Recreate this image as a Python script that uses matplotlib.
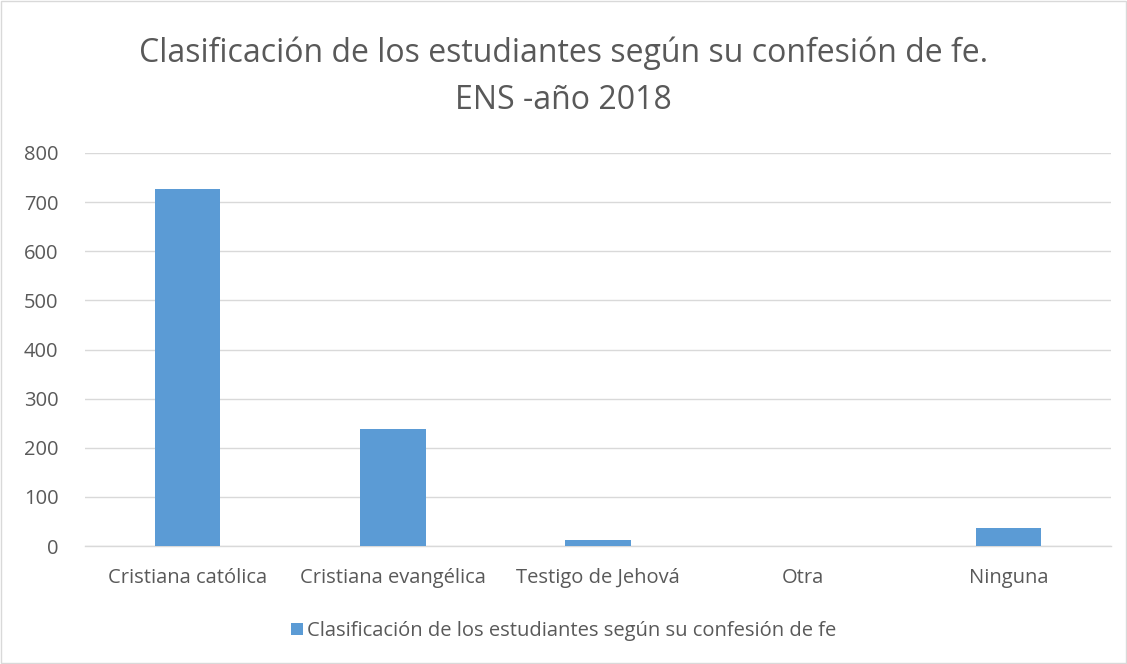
import matplotlib.pyplot as plt
from matplotlib.patches import Rectangle

categorias = ["Cristiana católica", "Cristiana evangélica", "Testigo de Jehová", "Otra", "Ninguna"]
valores = [726, 238, 12, 1, 37]
serie = "Clasificación de los estudiantes según su confesión de fe"
titulo = "Clasificación de los estudiantes según su confesión de fe.\nENS -año 2018"
yticks = [0, 100, 200, 300, 400, 500, 600, 700, 800]

plt.rcParams['font.family'] = ['Open Sans', 'DejaVu Sans']
gris = '#595959'

fig = plt.figure(figsize=(11.27, 6.64), dpi=100)
ax = fig.add_axes([85 / 1127, 1 - 546 / 664, (1111 - 85) / 1127, (546 - 153) / 664])

x = range(len(categorias))
ax.bar(x, valores, width=0.32, color='#5b9bd5', label=serie, zorder=3)
ax.set_xlim(-0.5, len(categorias) - 0.5)
ax.set_ylim(0, 800)
ax.set_yticks(yticks)
ax.set_xticks(list(x))
ax.set_xticklabels(categorias)
ax.tick_params(axis='both', length=0, colors=gris, labelsize=14.5)
ax.tick_params(axis='x', pad=16)
ax.tick_params(axis='y', pad=19)
ax.grid(axis='y', color='#d9d9d9', linewidth=1, zorder=0)
for s in ['top', 'right', 'left']:
    ax.spines[s].set_visible(False)
ax.spines['bottom'].set_color('#d9d9d9')
ax.spines['bottom'].set_linewidth(1)

fig.text(0.5, 1 - 77 / 664, titulo, ha='center', va='center', fontsize=23, color=gris, linespacing=1.55)

fig.legend(loc='center', bbox_to_anchor=(0.5, 1 - 631 / 664), frameon=False, fontsize=14.5,
           labelcolor=gris, handlelength=0.6, handleheight=0.6, handletextpad=0.2)

fig.patches.append(Rectangle((1 / 1127, 1 / 664), 1 - 2 / 1127, 1 - 2 / 664, transform=fig.transFigure,
                             fill=False, edgecolor='#d9d9d9', linewidth=1))

fig.savefig('out.png', dpi=100)
